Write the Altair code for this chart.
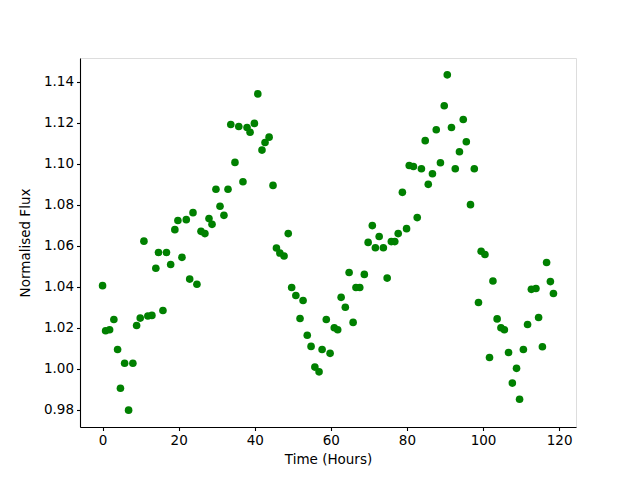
import altair as alt
import pandas as pd

time_hours = [0.0, 0.8, 1.85, 2.97, 3.95, 4.7, 5.8, 6.84, 7.97, 8.95,
              9.9, 10.87, 11.9, 12.97, 14.0, 14.7, 15.87, 16.8, 17.9, 19.0,
              19.8, 20.87, 22.0, 22.9, 23.77, 24.8, 25.87, 26.9, 27.97, 28.77,
              29.8, 30.87, 31.9, 32.97, 33.7, 34.8, 35.8, 36.9, 37.97, 38.77,
              39.9, 40.8, 41.9, 42.7, 43.77, 44.8, 45.7, 46.6, 47.7, 48.8,
              49.7, 50.8, 51.9, 52.7, 53.8, 54.8, 55.8, 56.9, 57.7, 58.8,
              59.8, 60.9, 61.8, 62.7, 63.8, 64.8, 65.85, 66.6, 67.6, 68.8,
              69.8, 70.9, 71.7, 72.7, 73.8, 74.8, 75.9, 76.8, 77.7, 78.8,
              79.9, 80.6, 81.7, 82.7, 83.8, 84.8, 85.6, 86.7, 87.7, 88.8,
              89.8, 90.6, 91.7, 92.7, 93.8, 94.8, 95.6, 96.7, 97.7, 98.8,
              99.5, 100.5, 101.7, 102.6, 103.7, 104.7, 105.6, 106.7, 107.7, 108.8,
              109.6, 110.6, 111.7, 112.7, 113.9, 114.6, 115.6, 116.7, 117.7, 118.5]

flux = [1.0405, 1.0185, 1.019, 1.024, 1.0094, 0.9905, 1.0027, 0.9798, 1.0027, 1.0211,
        1.0247, 1.0622, 1.0257, 1.026, 1.049, 1.0567, 1.0284, 1.0567, 1.0508, 1.0678,
        1.0723, 1.0543, 1.0727, 1.0437, 1.0761, 1.0412, 1.067, 1.0659, 1.0732, 1.0704,
        1.0875, 1.0792, 1.0748, 1.0875, 1.1191, 1.1006, 1.1181, 1.0912, 1.1176, 1.1153,
        1.1196, 1.134, 1.1066, 1.1103, 1.1129, 1.0894, 1.0589, 1.0564, 1.055, 1.0659,
        1.0396, 1.0357, 1.0245, 1.0333, 1.0163, 1.0109, 1.0008, 0.9985, 1.0094, 1.024,
        1.0075, 1.02, 1.019, 1.0348, 1.03, 1.0469, 1.0226, 1.0396, 1.0396, 1.046,
        1.0616, 1.0698, 1.059, 1.0645, 1.059, 1.0442, 1.062, 1.062, 1.0659, 1.086,
        1.0683, 1.0991, 1.0986, 1.0737, 1.0975, 1.1112, 1.0899, 1.0951, 1.1165, 1.1004,
        1.1282, 1.1433, 1.1176, 1.0975, 1.1058, 1.1215, 1.1107, 1.08, 1.0975, 1.0323,
        1.0573, 1.0557, 1.0055, 1.0428, 1.0243, 1.02, 1.019, 1.0079, 0.993, 1.0002,
        0.9851, 1.0094, 1.0216, 1.0387, 1.0391, 1.025, 1.0107, 1.0518, 1.0425, 1.0367]

x_ticks = [0, 20, 40, 60, 80, 100, 120]
y_ticks = [0.98, 1.00, 1.02, 1.04, 1.06, 1.08, 1.10, 1.12, 1.14]

df = pd.DataFrame({"t": time_hours, "f": flux})

axis_common = dict(
    domainColor="black", domainWidth=1.1, tickColor="black", tickWidth=1.1,
    tickSize=3.5, labelFont="DejaVu Sans", labelFontSize=13.5, labelColor="black",
    titleFont="DejaVu Sans", titleFontSize=13.5, titleFontWeight="normal",
    titleColor="black", grid=False, labelPadding=3,
)

chart = alt.Chart(df).mark_circle(size=58, color="#008000", opacity=1).encode(
    x=alt.X("t:Q",
            scale=alt.Scale(domain=[-5.93, 124.43], nice=False, zero=False),
            axis=alt.Axis(title="Time (Hours)", values=x_ticks, format="d",
                          titlePadding=5, **axis_common)),
    y=alt.Y("f:Q",
            scale=alt.Scale(domain=[0.9716, 1.1515], nice=False, zero=False),
            axis=alt.Axis(title="Normalised Flux", values=y_ticks, format=".2f",
                          titlePadding=11, **axis_common)),
).properties(
    width=496, height=369,
    autosize=alt.AutoSizeParams(type="none"),
    padding={"left": 72, "top": 50, "right": 56, "bottom": 45},
).configure_view(
    stroke="black", strokeWidth=1.1,
).configure(background="white")

chart.save("out.html", embed_options={"renderer": "svg", "actions": False})
